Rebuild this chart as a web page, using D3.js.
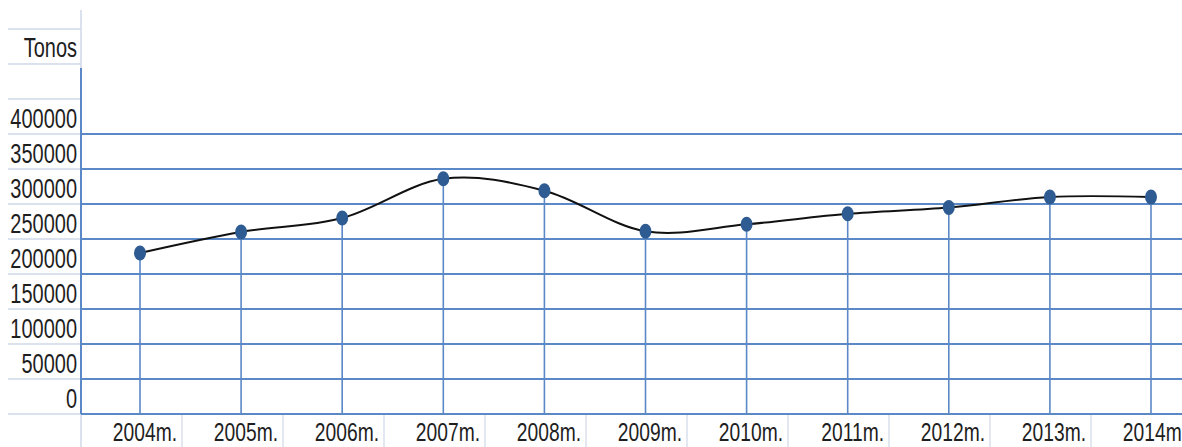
<!DOCTYPE html>
<html>
<head>
<meta charset="utf-8">
<script src="https://cdn.jsdelivr.net/npm/d3@7"></script>
<style>
  html, body { margin: 0; padding: 0; background: #fff; }
  svg { display: block; }
  text { font-family: "Liberation Sans", Arial, sans-serif; fill: #1e1e1e; }
</style>
</head>
<body>
<svg id="chart" width="1182" height="447"></svg>
<script>
// Annual tonnage, 2004–2014
const years = ["2004m.", "2005m.", "2006m.", "2007m.", "2008m.", "2009m.", "2010m.", "2011m.", "2012m.", "2013m.", "2014m."];
const tonnes = [230000, 260000, 280000, 336000, 319000, 261000, 271000, 286000, 295000, 310000, 310000];
const yTicks = [0, 50000, 100000, 150000, 200000, 250000, 300000, 350000, 400000];
const unitLabel = "Tonos";
const unitLevel = 500000;
const cellRows = [0, 50000, 100000, 150000, 200000, 250000, 300000, 350000, 400000, 450000, 500000, 550000];

const W = 1182, H = 447;
const left = 81, right = W;
const svg = d3.select("#chart");

const y = d3.scaleLinear().domain([0, 400000]).range([414, 134]);
const x = d3.scalePoint().domain(years).range([140, 1151]);
const cells = d3.scaleBand().domain(years).range([left, left + 101 * years.length]);

const blue = "#5b88c6";
const cellGrey = "#cfd8e8";
const textScale = 0.74;

// spreadsheet cell borders in the label column
svg.append("g").selectAll("line").data(cellRows).join("line")
  .attr("x1", 8).attr("x2", left)
  .attr("y1", d => y(d)).attr("y2", d => y(d))
  .attr("stroke", cellGrey).attr("stroke-width", 1.5);

svg.append("line")
  .attr("x1", left).attr("x2", left).attr("y1", 10).attr("y2", H)
  .attr("stroke", cellGrey).attr("stroke-width", 1.5);

// category cell separators under the axis
svg.append("g").selectAll("line").data(years).join("line")
  .attr("x1", d => cells(d) + cells.bandwidth()).attr("x2", d => cells(d) + cells.bandwidth())
  .attr("y1", y(0)).attr("y2", H)
  .attr("stroke", cellGrey).attr("stroke-width", 1.2);

// horizontal gridlines
svg.append("g").selectAll("line").data(yTicks).join("line")
  .attr("x1", left).attr("x2", right)
  .attr("y1", d => y(d)).attr("y2", d => y(d))
  .attr("stroke", blue).attr("stroke-width", 2);

// value axis line
svg.append("line")
  .attr("x1", left).attr("x2", left).attr("y1", 68).attr("y2", y(0))
  .attr("stroke", blue).attr("stroke-width", 2);

// drop lines from each point
svg.append("g").selectAll("line").data(years).join("line")
  .attr("x1", d => x(d)).attr("x2", d => x(d))
  .attr("y1", (d, i) => y(tonnes[i])).attr("y2", y(0))
  .attr("stroke", blue).attr("stroke-width", 1.6);

// value tick labels
const yAxis = svg.append("g")
  .attr("transform", `translate(${left},0)`)
  .call(d3.axisLeft(y).tickValues(yTicks).tickSize(0).tickFormat(d => String(d)));
yAxis.select(".domain").remove();
yAxis.selectAll("text")
  .attr("x", 0).attr("dy", null).attr("y", -7)
  .attr("transform", `translate(-4,0) scale(${textScale},1)`)
  .style("font-size", "27px").style("font-family", "'Liberation Sans', Arial, sans-serif")
  .attr("fill", "#1e1e1e");

// unit label
svg.append("text")
  .attr("text-anchor", "end")
  .attr("transform", `translate(${left - 4},${y(unitLevel) - 7}) scale(${textScale},1)`)
  .style("font-size", "27px")
  .text(unitLabel);

// category labels, right-aligned in their cells
const xAxis = svg.append("g")
  .attr("transform", `translate(0,${y(0)})`)
  .call(d3.axisBottom(cells).tickSize(0).tickFormat(d => d));
xAxis.select(".domain").remove();
xAxis.selectAll(".tick").attr("transform", d => `translate(${cells(d) + cells.bandwidth() - 5},0)`);
xAxis.selectAll("text")
  .attr("text-anchor", "end").attr("x", 0).attr("dy", null).attr("y", 27)
  .attr("transform", `scale(${textScale},1)`)
  .style("font-size", "26px").style("font-family", "'Liberation Sans', Arial, sans-serif")
  .attr("fill", "#1e1e1e");

// smoothed series line
const line = d3.line()
  .x((d, i) => x(years[i]))
  .y(d => y(d))
  .curve(d3.curveCardinal.tension(0));
svg.append("path")
  .datum(tonnes)
  .attr("d", line)
  .attr("fill", "none")
  .attr("stroke", "#111")
  .attr("stroke-width", 2);

// markers
svg.append("g").selectAll("ellipse").data(tonnes).join("ellipse")
  .attr("cx", (d, i) => x(years[i]))
  .attr("cy", d => y(d))
  .attr("rx", 6).attr("ry", 7.5)
  .attr("fill", "#2e5b91");
</script>
</body>
</html>
